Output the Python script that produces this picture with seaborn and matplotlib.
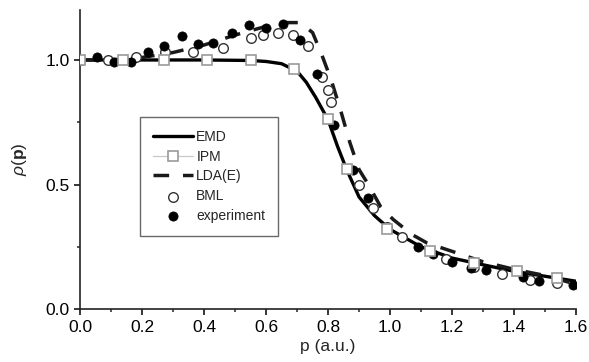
import numpy as np
import pandas as pd
import matplotlib
matplotlib.use("Agg")
import matplotlib.pyplot as plt
from matplotlib.ticker import MultipleLocator
import seaborn as sns

# EMD (solid black curve)
emd_p = [0.0, 0.2, 0.4, 0.55, 0.6, 0.65, 0.70, 0.73, 0.76, 0.80, 0.83, 0.86, 0.90, 0.95, 1.0, 1.1, 1.2, 1.3, 1.4, 1.5, 1.6]
emd_rho = [1.0, 1.0, 1.0, 0.998, 0.994, 0.985, 0.955, 0.91, 0.85, 0.76, 0.655, 0.56, 0.45, 0.375, 0.32, 0.25, 0.205, 0.178, 0.152, 0.132, 0.112]

# IPM (open grey squares)
ipm_p = [0.0, 0.14, 0.27, 0.41, 0.55, 0.69, 0.80, 0.86, 0.99, 1.13, 1.27, 1.41, 1.54]
ipm_rho = [1.0, 1.0, 1.0, 1.0, 1.0, 0.964, 0.763, 0.562, 0.321, 0.233, 0.185, 0.153, 0.124]

# LDA(E) (dashed curve)
lda_p = [0.0, 0.1, 0.2, 0.3, 0.4, 0.5, 0.6, 0.66, 0.71, 0.75, 0.78, 0.81, 0.84, 0.87, 0.90, 0.93,
         0.97, 1.01, 1.07, 1.12, 1.2, 1.3, 1.4, 1.5, 1.6]
lda_rho = [1.0, 1.0, 1.01, 1.03, 1.06, 1.10, 1.135, 1.15, 1.15, 1.11, 1.02, 0.92, 0.80, 0.67, 0.56, 0.50,
           0.41, 0.36, 0.30, 0.265, 0.232, 0.19, 0.16, 0.135, 0.10]

# BML (open circles)
bml_p = [0.0, 0.09, 0.18, 0.275, 0.365, 0.46, 0.55, 0.59, 0.64, 0.687, 0.735, 0.78, 0.80, 0.81,
         0.90, 0.945, 0.99, 1.04, 1.18, 1.27, 1.36, 1.45, 1.54]
bml_rho = [1.0, 1.0, 1.01, 1.03, 1.03, 1.05, 1.09, 1.10, 1.11, 1.10, 1.056, 0.93, 0.88, 0.83,
           0.50, 0.405, 0.33, 0.29, 0.20, 0.17, 0.14, 0.117, 0.104]

# experiment (filled circles)
exp_p = [0.055, 0.11, 0.165, 0.22, 0.27, 0.33, 0.38, 0.43, 0.49, 0.545, 0.60, 0.655, 0.71, 0.765,
         0.82, 0.88, 0.93, 1.09, 1.14, 1.20, 1.26, 1.31, 1.43, 1.48, 1.59]
exp_rho = [1.01, 0.99, 0.99, 1.03, 1.055, 1.095, 1.065, 1.07, 1.11, 1.14, 1.13, 1.145, 1.08, 0.945,
           0.74, 0.56, 0.445, 0.25, 0.22, 0.19, 0.165, 0.157, 0.13, 0.113, 0.097]

sns.set_theme(style="ticks")
plt.rcParams['font.family'] = ['Liberation Sans', 'DejaVu Sans']
plt.rcParams['mathtext.fontset'] = 'custom'
plt.rcParams['mathtext.rm'] = 'Liberation Sans'
plt.rcParams['mathtext.it'] = 'Liberation Sans:italic'
plt.rcParams['mathtext.bf'] = 'Liberation Sans:bold'

fig = plt.figure(figsize=(5.89, 3.62), dpi=100)
ax = fig.add_axes([0.136, 0.146, 0.842, 0.826])

sns.lineplot(x=emd_p, y=emd_rho, ax=ax, color='black', lw=2.4, sort=False,
             estimator=None, label='EMD', zorder=2)
# IPM: only the squares are drawn in the plot, the legend gets a thin grey line
sns.lineplot(x=ipm_p, y=ipm_rho, ax=ax, color='#c8c8c8', lw=0.9, sort=False, estimator=None,
             marker='s', markersize=7, markerfacecolor='white', markeredgecolor='#9a9a9a',
             markeredgewidth=1.2, label='IPM', zorder=5)
ax.lines[-1].set_linestyle('none')
sns.lineplot(x=lda_p, y=lda_rho, ax=ax, color='#1a1a1a', lw=2.5, sort=False, estimator=None,
             label='LDA(E)', zorder=2)
ax.lines[-1].set_dashes((4.5, 4))
sns.scatterplot(x=bml_p, y=bml_rho, ax=ax, s=48, facecolor='white', edgecolor='#333333',
                linewidth=1.0, label='BML', zorder=3)
sns.scatterplot(x=exp_p, y=exp_rho, ax=ax, s=44, color='black', edgecolor='black',
                linewidth=0.5, label='experiment', zorder=4)

ax.set_xlim(0, 1.6)
ax.set_ylim(0, 1.2)
ax.xaxis.set_major_locator(MultipleLocator(0.2))
ax.xaxis.set_minor_locator(MultipleLocator(0.1))
ax.yaxis.set_major_locator(MultipleLocator(0.5))
ax.yaxis.set_minor_locator(MultipleLocator(0.25))
ax.tick_params(which='major', direction='out', length=4, width=1.1, labelsize=12.5, colors='black')
ax.tick_params(which='minor', direction='out', length=2.5, width=1.1)
sns.despine(ax=ax)
for s in ['left', 'bottom']:
    ax.spines[s].set_linewidth(1.2)
    ax.spines[s].set_color('#222222')

ax.set_xlabel('p (a.u.)', fontsize=12.5, labelpad=3)
ax.set_ylabel(r'$\rho(\mathbf{p})$', fontsize=12.5, labelpad=12)

leg = ax.legend(loc='upper left', bbox_to_anchor=(0.121, 0.642), fontsize=10,
                handlelength=2.9, handletextpad=0.25, labelspacing=0.42, borderpad=0.9,
                frameon=True, fancybox=False, borderaxespad=0)
leg.get_frame().set_edgecolor('#444444')
leg.get_frame().set_linewidth(1.0)
leg.legend_handles[1].set_linestyle('-')

fig.savefig('out.png', dpi=100)
